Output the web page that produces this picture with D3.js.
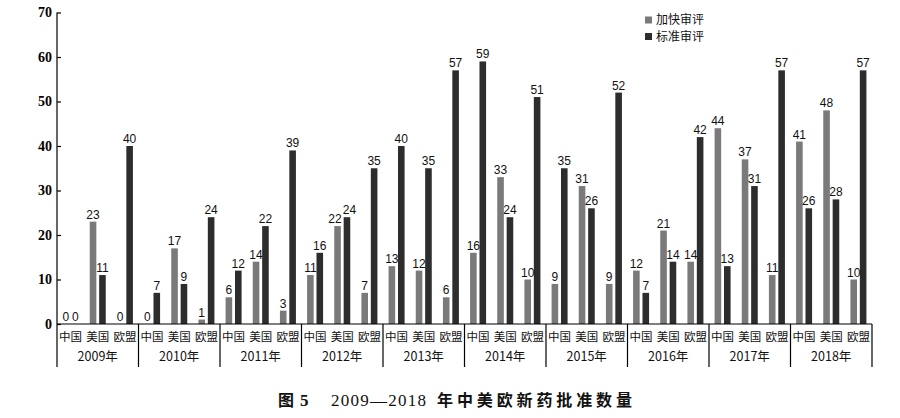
<!DOCTYPE html>
<html>
<head>
<meta charset="utf-8">
<script src="https://cdn.jsdelivr.net/npm/d3@7"></script>
<style>
  body { margin: 0; background: #fff; }
  svg { display: block; }
</style>
</head>
<body>
<svg id="chart"></svg>
<script>
"use strict"

const years = ["2009", "2010", "2011", "2012", "2013", "2014", "2015", "2016", "2017", "2018"]
const regions = ["中国", "美国", "欧盟"]
const seriesNames = ["加快审评", "标准审评"]
const yTicks = [0, 10, 20, 30, 40, 50, 60, 70]

// per year: [中国, 美国, 欧盟]
const fastTrack = [
  [0, 23, 0], [0, 17, 1], [6, 14, 3], [11, 22, 7], [13, 12, 6],
  [16, 33, 10], [9, 31, 9], [12, 21, 14], [44, 37, 11], [41, 48, 10]
]
const standard = [
  [0, 11, 40], [7, 9, 24], [12, 22, 39], [16, 24, 35], [40, 35, 57],
  [59, 24, 51], [35, 26, 52], [7, 14, 42], [13, 31, 57], [26, 28, 57]
]

const width = 900
const height = 418
const plotLeft = 57
const plotRight = 872
const plotTop = 12.5
const baseY = 324
const frameBottom = 367
const colors = ["#7a7a7a", "#2d2d2d"]
const cjk = "'Noto Sans CJK SC', sans-serif"
const serif = "'Liberation Serif', 'Times New Roman', serif"

const svg = d3.select("#chart").attr("width", width).attr("height", height)

const x0 = d3.scaleBand().domain(years).range([plotLeft, plotRight])
const x1 = d3.scaleBand().domain(regions).range([0, x0.bandwidth()])
const x2 = d3.scaleBand().domain(seriesNames).range([-8, 8]).paddingInner(0.3)
const y = d3.scaleLinear().domain([0, 70]).range([baseY, plotTop])

const rows = []
years.forEach((yr, i) => {
  regions.forEach((rg, j) => {
    const a = fastTrack[i][j], b = standard[i][j]
    // two-digit labels at nearly the same height get pushed apart a little
    const clash = a >= 10 && b >= 10 && Math.abs(y(a) - y(b)) < 12
    rows.push({ year: yr, region: rg, series: seriesNames[0], value: a, c: 0, dx: clash ? -2.5 : 0 })
    rows.push({ year: yr, region: rg, series: seriesNames[1], value: b, c: 1, dx: clash ? 2.5 : 0 })
  })
})

const barX = d => x0(d.year) + x1(d.region) + x1.bandwidth() / 2 + x2(d.series)

svg.append("g")
  .selectAll("rect")
  .data(rows)
  .enter().append("rect")
    .attr("x", barX)
    .attr("y", d => y(d.value))
    .attr("width", x2.bandwidth())
    .attr("height", d => baseY - y(d.value))
    .attr("fill", d => colors[d.c])

svg.append("g")
  .selectAll("text")
  .data(rows)
  .enter().append("text")
    .attr("x", d => barX(d) + x2.bandwidth() / 2 + d.dx)
    .attr("y", d => y(d.value) - 3)
    .attr("text-anchor", "middle")
    .style("font-family", "'Liberation Sans', Arial, sans-serif")
    .style("font-size", "12px")
    .attr("fill", "#111")
    .text(d => d.value)

// y axis, ticks point inward
const yAxis = svg.append("g")
  .attr("transform", `translate(${plotLeft},0)`)
  .call(d3.axisLeft(y).tickValues(yTicks).tickSize(-4).tickSizeOuter(0).tickPadding(5))
yAxis.select(".domain").remove()
yAxis.selectAll("line").attr("stroke", "#000").attr("stroke-width", 1.2)
yAxis.selectAll("text")
  .style("font-family", serif)
  .style("font-weight", "bold")
  .style("font-size", "14px")
  .attr("fill", "#000")

const lines = svg.append("g").attr("stroke", "#000").attr("stroke-width", 1.2)
lines.append("line").attr("x1", plotLeft).attr("x2", plotLeft).attr("y1", plotTop).attr("y2", frameBottom)
lines.append("line").attr("x1", plotLeft).attr("x2", plotRight).attr("y1", baseY).attr("y2", baseY)
lines.selectAll(".sep")
  .data(years.slice(1).concat(["end"]))
  .enter().append("line")
    .attr("class", "sep")
    .attr("x1", d => d === "end" ? plotRight : x0(d))
    .attr("x2", d => d === "end" ? plotRight : x0(d))
    .attr("y1", baseY)
    .attr("y2", frameBottom)

// category labels
const catRows = []
years.forEach(yr => regions.forEach(rg => catRows.push({ year: yr, region: rg })))
svg.append("g")
  .selectAll("text")
  .data(catRows)
  .enter().append("text")
    .attr("x", d => x0(d.year) + x1(d.region) + x1.bandwidth() / 2)
    .attr("y", 341)
    .attr("text-anchor", "middle")
    .style("font-family", cjk)
    .style("font-size", "11.5px")
    .attr("fill", "#111")
    .text(d => d.region)

svg.append("g")
  .selectAll("text")
  .data(years)
  .enter().append("text")
    .attr("x", d => x0(d) + x0.bandwidth() / 2)
    .attr("y", 361)
    .attr("text-anchor", "middle")
    .style("font-family", cjk)
    .style("font-size", "12.5px")
    .attr("fill", "#111")
    .text(d => d + "年")

// legend
const legend = svg.append("g")
  .selectAll("g")
  .data(seriesNames)
  .enter().append("g")
    .attr("transform", (d, i) => `translate(645,${16.5 + i * 16.5})`)
legend.append("rect").attr("width", 7).attr("height", 7).attr("fill", (d, i) => colors[i])
legend.append("text")
  .attr("x", 11)
  .attr("y", 7.5)
  .style("font-family", cjk)
  .style("font-size", "12px")
  .attr("fill", "#111")
  .text(d => d)

// caption
const cap = svg.append("g").attr("fill", "#111")
cap.append("text").attr("x", 278).attr("y", 406)
  .style("font-family", cjk).style("font-weight", "bold").style("font-size", "16px")
  .text("图")
cap.append("text").attr("x", 300).attr("y", 406)
  .style("font-family", serif).style("font-weight", "bold").style("font-size", "17px")
  .text("5")
cap.append("text").attr("x", 331).attr("y", 406)
  .attr("textLength", 95).attr("lengthAdjust", "spacing")
  .style("font-family", serif).style("font-size", "17px")
  .text("2009—2018")
cap.append("text").attr("x", 437).attr("y", 406)
  .attr("textLength", 195).attr("lengthAdjust", "spacing")
  .style("font-family", cjk).style("font-weight", "bold").style("font-size", "16px")
  .text("年中美欧新药批准数量")
</script>
</body>
</html>
